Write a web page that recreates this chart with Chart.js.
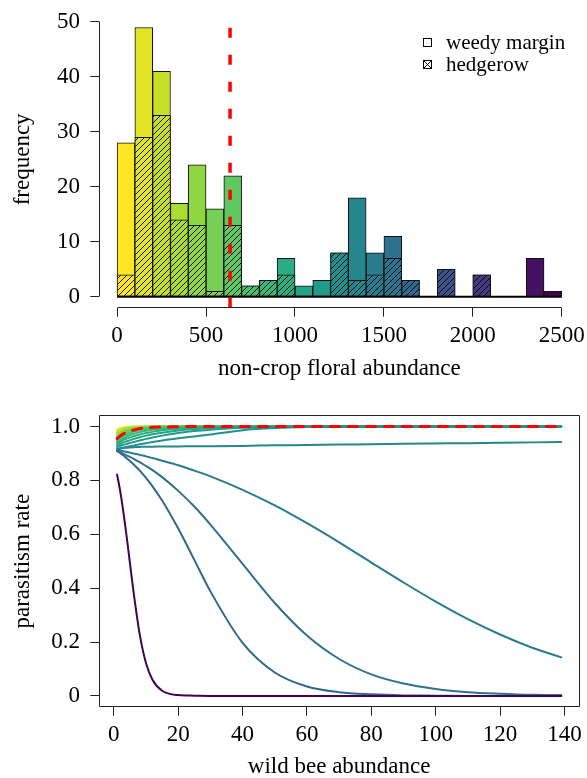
<!DOCTYPE html>
<html>
<head>
<meta charset="utf-8">
<script src="https://cdn.jsdelivr.net/npm/chart.js@4"></script>
<style>
  html, body { margin: 0; padding: 0; background: #fff; overflow: hidden; }
  body { position: relative; width: 587px; height: 778px; }
  canvas { position: absolute; left: 0; }
  #histFloral { top: 0; }
  #curvesBee { top: 390px; }
</style>
</head>
<body>
<canvas id="histFloral" width="587" height="390"></canvas>
<canvas id="curvesBee" width="587" height="388"></canvas>
<script>
// top panel: non-crop floral abundance, bins of 100
const binMids = [50, 150, 250, 350, 450, 550, 650, 750, 850, 950, 1050, 1150, 1250,
  1350, 1450, 1550, 1650, 1750, 1850, 1950, 2050, 2150, 2250, 2350, 2450];
const allCounts = [28, 49, 41, 17, 24, 16, 22, 2, 3, 7, 2, 3, 8, 18, 8, 11, 3, 0, 5, 0, 4, 0, 0, 7, 1];
const hedgerowCounts = [4, 29, 33, 14, 13, 1, 13, 2, 3, 4, 0, 0, 8, 3, 4, 7, 3, 0, 5, 0, 4, 0, 0, 0, 0];
const floralTicks = [0, 500, 1000, 1500, 2000, 2500];
const freqTicks = [0, 10, 20, 30, 40, 50];
const floralRange = [-100, 2600];
const freqRange = [-2, 52];
const meanFloral = 635;
const legendItems = ['weedy margin', 'hedgerow'];

// bottom panel: parasitism rate vs wild bee abundance, one curve per floral level
const beeX = [1, 2, 3, 4, 5, 6, 8, 10, 12, 15, 20, 25, 30, 40, 50, 60, 70, 80, 90, 100, 110, 120, 130, 139];
const beeTicks = [0, 20, 40, 60, 80, 100, 120, 140];
const rateTicks = [0, 0.2, 0.4, 0.6, 0.8, 1];
const rateTickLabels = ['0', '0.2', '0.4', '0.6', '0.8', '1.0'];
const beeRange = [-4.52, 144.52];
const rateRange = [-0.04, 1.04];

const rate50 = [0.989, 0.994, 0.997, 0.998, 0.999, 1, 1, 1, 1, 1, 1, 1, 1, 1, 1, 1, 1, 1, 1, 1, 1, 1, 1, 1];
const rate150 = [0.984, 0.991, 0.995, 0.997, 0.998, 0.999, 1, 1, 1, 1, 1, 1, 1, 1, 1, 1, 1, 1, 1, 1, 1, 1, 1, 1];
const rate250 = [0.979, 0.987, 0.992, 0.995, 0.997, 0.998, 0.999, 1, 1, 1, 1, 1, 1, 1, 1, 1, 1, 1, 1, 1, 1, 1, 1, 1];
const rate350 = [0.974, 0.982, 0.988, 0.992, 0.994, 0.996, 0.998, 0.999, 1, 1, 1, 1, 1, 1, 1, 1, 1, 1, 1, 1, 1, 1, 1, 1];
const rate450 = [0.968, 0.977, 0.984, 0.988, 0.991, 0.993, 0.996, 0.998, 0.999, 1, 1, 1, 1, 1, 1, 1, 1, 1, 1, 1, 1, 1, 1, 1];
const rate550 = [0.962, 0.971, 0.978, 0.983, 0.987, 0.990, 0.994, 0.996, 0.998, 0.999, 1, 1, 1, 1, 1, 1, 1, 1, 1, 1, 1, 1, 1, 1];
const rate650 = [0.956, 0.965, 0.972, 0.978, 0.982, 0.986, 0.991, 0.994, 0.996, 0.998, 0.999, 1, 1, 1, 1, 1, 1, 1, 1, 1, 1, 1, 1, 1];
const rate750 = [0.950, 0.958, 0.965, 0.971, 0.976, 0.980, 0.986, 0.990, 0.993, 0.996, 0.998, 0.999, 1, 1, 1, 1, 1, 1, 1, 1, 1, 1, 1, 1];
const rate850 = [0.944, 0.951, 0.957, 0.963, 0.968, 0.972, 0.979, 0.984, 0.988, 0.992, 0.996, 0.998, 0.999, 1, 1, 1, 1, 1, 1, 1, 1, 1, 1, 1];
const rate950 = [0.938, 0.944, 0.950, 0.955, 0.959, 0.963, 0.970, 0.976, 0.980, 0.986, 0.992, 0.995, 0.997, 0.999, 1, 1, 1, 1, 1, 1, 1, 1, 1, 1];
const rate1050 = [0.931, 0.936, 0.941, 0.945, 0.949, 0.953, 0.960, 0.966, 0.971, 0.977, 0.985, 0.990, 0.994, 0.998, 1, 1, 1, 1, 1, 1, 1, 1, 1, 1];
const rate1150 = [0.924, 0.928, 0.932, 0.935, 0.939, 0.942, 0.948, 0.954, 0.959, 0.966, 0.976, 0.983, 0.988, 0.995, 0.998, 1, 1, 1, 1, 1, 1, 1, 1, 1];
const rate1250 = [0.917, 0.919, 0.922, 0.924, 0.927, 0.929, 0.934, 0.938, 0.942, 0.948, 0.956, 0.963, 0.970, 0.986, 0.994, 0.998, 0.999, 1, 1, 1, 1, 1, 1, 1];
const rate1350 = [0.915, 0.918, 0.920, 0.921, 0.922, 0.923, 0.924, 0.925, 0.925, 0.926, 0.926, 0.927, 0.927, 0.928, 0.930, 0.931, 0.933, 0.934, 0.936, 0.937, 0.938, 0.940, 0.941, 0.942];
const rate1450 = [0.913, 0.911, 0.908, 0.905, 0.903, 0.900, 0.895, 0.889, 0.883, 0.873, 0.856, 0.836, 0.815, 0.765, 0.707, 0.641, 0.570, 0.495, 0.421, 0.350, 0.285, 0.228, 0.179, 0.143];
const rate1550 = [0.909, 0.904, 0.898, 0.893, 0.887, 0.881, 0.868, 0.853, 0.838, 0.812, 0.761, 0.703, 0.636, 0.490, 0.345, 0.224, 0.137, 0.080, 0.046, 0.026, 0.014, 0.008, 0.004, 0.003];
const rate1650 = [0.909, 0.901, 0.892, 0.882, 0.872, 0.861, 0.837, 0.809, 0.778, 0.725, 0.621, 0.505, 0.388, 0.197, 0.087, 0.035, 0.014, 0.006, 0.002, 0.001, 0, 0, 0, 0];
const rate2450 = [0.822, 0.758, 0.679, 0.589, 0.493, 0.397, 0.231, 0.121, 0.060, 0.019, 0.003, 0.001, 0, 0, 0, 0, 0, 0, 0, 0, 0, 0, 0, 0];
const meanRate = [0.955, 0.965, 0.973, 0.979, 0.984, 0.986, 0.992, 0.995, 0.997, 0.998, 0.999, 1, 1, 1, 1, 1, 1, 1, 1, 1, 1, 1, 1, 1];

const curveFloral = [50, 150, 250, 350, 450, 550, 650, 750, 850, 950, 1050, 1150, 1250, 1350, 1450, 1550, 1650, 2450];
const rateCurves = [rate50, rate150, rate250, rate350, rate450, rate550, rate650, rate750, rate850,
  rate950, rate1050, rate1150, rate1250, rate1350, rate1450, rate1550, rate1650, rate2450];

Chart.defaults.font.family = '"Liberation Serif", "Times New Roman", serif';
Chart.defaults.color = '#000';

// viridis, reversed so low floral abundance is yellow
const viridisStops = ['#440154', '#482576', '#414487', '#35608d', '#2a788e', '#21908c',
  '#22a884', '#43bf71', '#7ad151', '#bbdf27', '#fde725'];

function hexRgb(h) {
  return [1, 3, 5].map(i => parseInt(h.slice(i, i + 2), 16));
}

function viridis(t) {
  const p = Math.min(Math.max(t, 0), 1) * (viridisStops.length - 1);
  const i = Math.min(Math.floor(p), viridisStops.length - 2);
  const f = p - i;
  const a = hexRgb(viridisStops[i]), b = hexRgb(viridisStops[i + 1]);
  const c = a.map((v, k) => Math.round(v + (b[k] - v) * f));
  return `rgb(${c[0]},${c[1]},${c[2]})`;
}

function binColor(x) {
  return viridis(1 - (x - binMids[0]) / (binMids[binMids.length - 1] - binMids[0]));
}

const histCtx = document.getElementById('histFloral').getContext('2d');

function hatch(color) {
  const c = document.createElement('canvas');
  c.width = c.height = 6;
  const g = c.getContext('2d');
  g.fillStyle = color;
  g.fillRect(0, 0, 6, 6);
  g.strokeStyle = '#000';
  g.lineWidth = 0.9;
  g.beginPath();
  g.moveTo(-1, 7); g.lineTo(7, -1);
  g.moveTo(-1, 1); g.lineTo(1, -1);
  g.moveTo(5, 7); g.lineTo(7, 5);
  g.stroke();
  return histCtx.createPattern(c, 'repeat');
}

const align = v => Math.round(v - 0.5) + 0.5;

// fixed axis sizes; drop the label overhang padding so layout.padding rules
function fixWidth(w) {
  return s => { s.width = w; s.paddingTop = 0; s.paddingBottom = 0; };
}
function fixHeight(h) {
  return s => { s.height = h; s.paddingLeft = 0; s.paddingRight = 0; };
}

// R style axes: axis line only from first to last tick, or a full box
const rAxes = {
  id: 'rAxes',
  afterDraw(chart, args, opts) {
    const { ctx, chartArea: a, scales: { x, y } } = chart;
    ctx.save();
    ctx.strokeStyle = '#222';
    ctx.lineWidth = 1;
    ctx.beginPath();
    if (opts.box) {
      ctx.rect(align(a.left), align(a.top), align(a.right) - align(a.left), align(a.bottom) - align(a.top));
    } else {
      const xt = x.ticks, yt = y.ticks;
      ctx.moveTo(align(x.getPixelForValue(xt[0].value)), align(a.bottom));
      ctx.lineTo(align(x.getPixelForValue(xt[xt.length - 1].value)), align(a.bottom));
      ctx.moveTo(align(a.left), align(y.getPixelForValue(yt[0].value)));
      ctx.lineTo(align(a.left), align(y.getPixelForValue(yt[yt.length - 1].value)));
    }
    ctx.stroke();
    ctx.restore();
  }
};

const floralLegend = {
  id: 'floralLegend',
  afterDraw(chart) {
    const ctx = chart.ctx;
    ctx.save();
    ctx.font = '21px "Liberation Serif"';
    ctx.fillStyle = '#000';
    ctx.strokeStyle = '#000';
    ctx.lineWidth = 1;
    ctx.textBaseline = 'alphabetic';
    legendItems.forEach((label, i) => {
      const top = 38.5 + i * 22;
      ctx.strokeRect(423.5, top, 8, 8);
      if (i === 1) {
        ctx.beginPath();
        ctx.moveTo(423.5, top); ctx.lineTo(431.5, top + 8);
        ctx.moveTo(431.5, top); ctx.lineTo(423.5, top + 8);
        ctx.stroke();
      }
      ctx.fillText(label, 446, top + 10);
    });
    ctx.restore();
  }
};

const tickGrid = { drawOnChartArea: false, drawTicks: true, tickLength: 9, color: '#222', offset: false };

new Chart(histCtx, {
  type: 'bar',
  data: {
    datasets: [
      {
        type: 'line',
        data: freqRange.map(y => ({ x: meanFloral, y })),
        borderColor: '#ff0000',
        borderWidth: 3.5,
        borderDash: [10, 17],
        pointRadius: 0,
        order: 0
      },
      {
        label: 'hedgerow',
        data: binMids.map((x, i) => ({ x, y: hedgerowCounts[i] || null })),
        backgroundColor: binMids.map(x => hatch(binColor(x))),
        borderColor: '#111',
        borderWidth: 1,
        borderSkipped: false,
        grouped: false,
        barPercentage: 1,
        categoryPercentage: 1,
        order: 1
      },
      {
        label: 'weedy margin',
        data: binMids.map((x, i) => ({ x, y: allCounts[i] || null })),
        backgroundColor: binMids.map(binColor),
        borderColor: '#111',
        borderWidth: 1,
        borderSkipped: false,
        grouped: false,
        barPercentage: 1,
        categoryPercentage: 1,
        order: 2
      },
      {
        type: 'line',
        data: [floralTicks[0], floralTicks[floralTicks.length - 1]].map(x => ({ x, y: 0 })),
        borderColor: '#000',
        borderWidth: 2,
        pointRadius: 0,
        order: 3
      }
    ]
  },
  options: {
    responsive: false,
    animation: false,
    events: [],
    layout: { padding: { top: 11, right: 7.4, left: 0, bottom: 0 } },
    scales: {
      x: {
        type: 'linear',
        min: floralRange[0],
        max: floralRange[1],
        offset: false,
        afterBuildTicks: s => { s.ticks = floralTicks.map(value => ({ value })); },
        afterFit: fixHeight(82.3),
        grid: tickGrid,
        border: { display: false },
        ticks: { padding: 5.5, font: { size: 23 }, autoSkip: false, maxRotation: 0, callback: v => String(v) },
        title: { display: true, text: 'non-crop floral abundance', font: { size: 23 }, padding: { top: 0, bottom: 7.2 } }
      },
      y: {
        min: freqRange[0],
        max: freqRange[1],
        afterBuildTicks: s => { s.ticks = freqTicks.map(value => ({ value })); },
        afterFit: fixWidth(99.3),
        grid: tickGrid,
        border: { display: false },
        ticks: { padding: 10.3, font: { size: 23 }, callback: v => String(v) },
        title: { display: true, text: 'frequency', font: { size: 23 }, padding: { top: 9.1, bottom: 0 } }
      }
    },
    plugins: {
      legend: { display: false },
      tooltip: { enabled: false },
      rAxes: { box: false }
    }
  },
  plugins: [rAxes, floralLegend]
});

new Chart(document.getElementById('curvesBee'), {
  type: 'line',
  data: {
    datasets: [
      {
        data: beeX.map((x, j) => ({ x, y: meanRate[j] })),
        borderColor: '#ff0000',
        borderWidth: 3,
        borderDash: [9, 9],
        order: 0
      },
      ...rateCurves.map((rates, i) => ({
        data: beeX.map((x, j) => ({ x, y: rates[j] })),
        borderColor: binColor(curveFloral[i]),
        borderWidth: 2,
        order: rateCurves.length - i
      }))
    ]
  },
  options: {
    responsive: false,
    animation: false,
    events: [],
    elements: {
      point: { radius: 0 },
      line: { cubicInterpolationMode: 'monotone', borderCapStyle: 'round' }
    },
    layout: { padding: { top: 25.7, right: 8, left: 0, bottom: 0 } },
    scales: {
      x: {
        type: 'linear',
        min: beeRange[0],
        max: beeRange[1],
        afterBuildTicks: s => { s.ticks = beeTicks.map(value => ({ value })); },
        afterFit: fixHeight(71.3),
        grid: tickGrid,
        border: { display: false },
        ticks: { padding: 5.5, font: { size: 23 }, autoSkip: false, maxRotation: 0, callback: v => String(v) },
        title: { display: true, text: 'wild bee abundance', font: { size: 23 }, padding: { top: 0, bottom: -3 } }
      },
      y: {
        min: rateRange[0],
        max: rateRange[1],
        afterBuildTicks: s => { s.ticks = rateTicks.map(value => ({ value })); },
        afterFit: fixWidth(99.3),
        grid: tickGrid,
        border: { display: false },
        ticks: { padding: 10.3, font: { size: 23 }, callback: (v, i) => rateTickLabels[i] },
        title: { display: true, text: 'parasitism rate', font: { size: 23 }, padding: { top: 9.1, bottom: 0 } }
      }
    },
    plugins: {
      legend: { display: false },
      tooltip: { enabled: false },
      rAxes: { box: true }
    }
  },
  plugins: [rAxes]
});
</script>
</body>
</html>
